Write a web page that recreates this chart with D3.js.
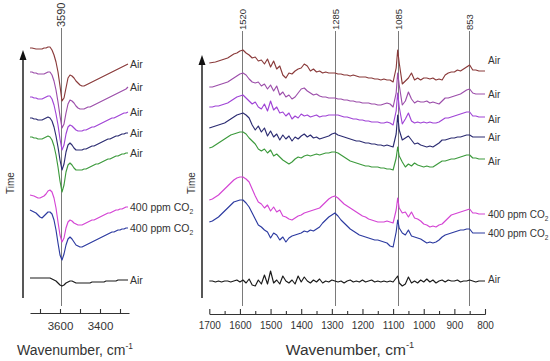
<!DOCTYPE html>
<html>
<head>
<meta charset="utf-8">
<script src="https://cdn.jsdelivr.net/npm/d3@7"></script>
<style>
  body { margin: 0; background: #fff; }
  svg { display: block; font-family: "Liberation Sans", Arial, sans-serif; }
  .lbl { fill: #333; }
</style>
</head>
<body>
<div id="chart"></div>
<script>
var App = App || {};

// wavenumber grids (cm-1)
const wnLeft = d3.range(3750, 3255, -10);
const wnRight = [].concat(d3.range(1700, 1089, -10), [1085], d3.range(1080, 799, -10));

// series, top to bottom
const seriesNames = ["Air", "Air", "Air", "Air", "Air", "400 ppm CO2", "400 ppm CO2", "Air"];
const seriesColors = ["#8a3a3a", "#9c4eaa", "#a044d6", "#2c2c72", "#3c9a3c", "#d444d4", "#2c3aa0", "#1a1a1a"];

// stacking offsets (a.u.)
const offsetsLeft = [252, 228, 203, 182, 163, 105, 90, 22];
const offsetsRight = [237, 213, 193, 172, 152, 100, 78, 19];

// OH region, 3750 -> 3260
const left0 = [0,0,-0.5,-1,-1,-1,-1,0,0,1, 1,-2,-7,-14,-24,-38,-53,-50,-40,-30,
  -27,-28,-30,-33,-35,-37,-38,-38,-37,-36, -35,-34,-33,-32,-31,-30,-29,-28,-27,-26,
  -25,-24,-23,-22,-21,-20,-19,-18,-17,-16];
const left1 = [0,0,-1,-1,-2,-2,-2,-2,-1,0, 0,-3,-9,-18,-30,-44,-56,-52,-41,-32,
  -28,-29,-31,-34,-36,-37,-37,-37,-36,-35, -35,-34,-33,-32,-31,-30,-29,-28,-27,-26,
  -25,-24,-23,-22,-21,-20,-19,-18,-17,-15];
const left2 = [0,0,-1,-1,-2,-2,-2,-1,0,1, 1,-2,-8,-17,-28,-42,-53,-48,-37,-30,
  -28,-29,-31,-33,-34,-34,-34,-33,-33,-32, -31,-30,-30,-29,-28,-27,-26,-25,-24,-23,
  -22,-21,-21,-20,-19,-18,-17,-16,-16,-15];
const left3 = [0,0,-1,-1,-2,-2,-2,-1,0,1, 0,-3,-9,-18,-29,-42,-52,-46,-34,-27,
  -25,-27,-30,-32,-32,-32,-32,-31,-31,-30, -29,-28,-28,-27,-26,-25,-24,-23,-22,-21,
  -21,-20,-19,-18,-18,-17,-16,-16,-15,-15];
const left4 = [0,0,-1,-1,-2,-2,-2,-1,0,1, 0,-3,-9,-18,-30,-44,-55,-48,-35,-28,
  -26,-28,-31,-33,-33,-33,-33,-32,-32,-31, -30,-29,-28,-27,-27,-26,-25,-24,-23,-22,
  -22,-21,-20,-19,-19,-18,-17,-17,-16,-16];
const left5 = [0,-0.5,-1,-2,-3,-3,-2,-1,1,4, 5,3,-3,-13,-27,-40,-47,-43,-33,-27,
  -25,-26,-28,-29,-30,-30,-30,-29,-28,-27, -26,-25,-25,-24,-23,-22,-21,-20,-19,-18,
  -18,-17,-16,-15,-15,-14,-14,-13,-12,-12];
const left6 = [0,-1,-2,-3,-5,-7,-8,-6,-4,-2, -2,-4,-10,-20,-33,-45,-50,-44,-35,-29,
  -27,-29,-32,-35,-36,-37,-37,-36,-35,-34, -33,-32,-31,-30,-29,-28,-27,-26,-25,-24,
  -23,-22,-22,-21,-20,-20,-19,-19,-18,-18];
const left7 = [0,0,0,0,0,0,0,0,0,0, 0,-1,-2,-3,-5,-7,-8,-7,-5,-4,
  -3,-3,-4,-5,-5,-5,-5,-5,-5,-5, -5,-4,-4,-4,-4,-4,-4,-4,-3,-3,
  -3,-3,-3,-3,-2,-2,-2,-2,-2,-2];

// fingerprint region, 1700 -> 800
const right0 = [0,0.5,1,2,3,4,5,7,9,10, 12,13,10,8,5,6,2,3,-1,4,
  -4,2,-6,-3,-12,-15,-10,-11,-8,-6, -5,-1,-3,-8,-6,-9,-8,-10,-9,-10,
  -10,-10,-11,-11,-12,-12,-13,-12,-13,-14, -14,-14,-15,-15,-16,-16,-17,-16,-17,-17,
  -19,-5,13,0,-21,-18,-15,-10,-17,-15,-17, -15,-15,-16,-15,-17,-16,-17,-12,-10,-9,
  -9,-7,-8,-6,-4,-2,-7,-7,-8,-8, -8];
const right1 = [0,0,1,2,3,4,5,7,9,11, 13,14,12,8,5,4,5,1,3,-2,
  2,-4,1,-8,-5,-10,-8,-12,-10,-6, -2,-1,-4,-6,-8,-7,-9,-10,-10,-11,
  -11,-11,-12,-12,-13,-13,-14,-14,-15,-15, -16,-16,-16,-17,-17,-18,-18,-17,-16,-17,
  -20,-6,14,2,-18,-14,-5,-12,-16,-14,-15, -15,-14,-16,-15,-16,-17,-14,-11,-11,-10,
  -9,-8,-7,-5,-3,-2,-6,-7,-7,-7, -7];
const right2 = [0,0,1,1,2,3,4,6,8,10, 11,12,9,6,3,5,0,-2,3,-4,
  6,-3,0,-6,-5,-9,-6,-12,-9,-11, -7,-9,-8,-10,-9,-8,-10,-9,-9,-8,
  -8,-8,-8,-9,-10,-10,-11,-12,-12,-13, -13,-14,-14,-15,-15,-15,-16,-16,-15,-16,
  -18,-4,14,0,-17,-12,-6,-14,-16,-15,-16, -15,-16,-15,-16,-16,-15,-13,-11,-11,-10,
  -9,-8,-7,-6,-5,-5,-9,-9,-10,-10, -10];
const right3 = [0,1,2,3,4,5,7,9,11,13, 14,15,13,10,3,-2,2,-4,0,-8,
  -3,-9,-6,-12,-7,-11,-8,-13,-9,-11, -8,-6,-9,-7,-10,-9,-11,-10,-9,-8,
  -6,-5,-7,-8,-9,-10,-11,-12,-13,-13, -14,-15,-15,-16,-16,-17,-17,-18,-17,-18,
  -19,-6,13,-2,-12,-10,-8,-12,-16,-15,-17, -18,-19,-18,-19,-17,-15,-12,-12,-11,-10,
  -10,-9,-9,-8,-7,-7,-9,-9,-9,-9, -9];
const right4 = [0,1,3,5,7,9,11,13,14,15, 16,16,14,10,7,4,-1,-3,-1,-5,
  -2,-8,-6,-9,-12,-14,-16,-14,-11,-9, -10,-8,-7,-8,-7,-6,-7,-6,-5,-5,
  -4,-4,-5,-7,-9,-11,-13,-14,-15,-16, -17,-18,-18,-19,-19,-19,-20,-20,-21,-21,
  -22,-10,1,-8,-14,-19,-16,-18,-15,-17,-18, -19,-18,-19,-19,-17,-15,-13,-13,-12,-11,
  -11,-10,-9,-8,-7,-7,-10,-10,-11,-11, -11];
const right5 = [0,1,3,5,8,11,14,17,20,22, 23,23,21,18,11,4,-2,-4,-8,-5,
  -11,-7,-12,-10,-16,-17,-19,-20,-18,-16, -15,-13,-12,-11,-10,-9,-8,-5,-2,1,
  3,4,2,-1,-4,-6,-8,-10,-12,-14, -16,-17,-19,-20,-21,-22,-22,-22,-21,-22,
  -23,-10,2,-8,-13,-12,-17,-12,-18,-19,-21, -24,-25,-27,-26,-27,-25,-24,-21,-18,-15,
  -14,-13,-12,-11,-10,-9,-13,-13,-14,-14, -14];
const right6 = [0,1,3,5,8,11,14,17,20,21, 22,22,19,15,9,3,-3,-5,-8,-10,
  -16,-11,-13,-18,-15,-20,-16,-14,-13,-12, -11,-9,-10,-8,-9,-7,-5,-1,2,5,
  7,9,6,2,-1,-4,-7,-9,-11,-13, -14,-15,-16,-17,-18,-18,-19,-20,-21,-24,
  -25,-10,2,-6,-11,-13,-8,-14,-15,-16,-17, -19,-21,-20,-21,-20,-18,-15,-13,-12,-11,
  -10,-9,-8,-8,-7,-7,-11,-11,-11,-11, -11];
const right7 = [0,0,-1,0,-1,0,0,-1,0,1, -1,1,-2,2,-4,-5,1,-3,6,-3,
  10,-2,1,-3,5,0,-2,1,-3,5, -1,4,0,-2,1,-1,2,-2,0,-1,
  1,0,-1,0,-2,0,1,-1,0,-1, 1,-1,0,1,-1,0,-1,0,-1,0,
  -1,3,5,-2,-5,-3,4,-2,0,-2,1, -1,2,-1,1,-2,0,1,-1,1,0,
  0,1,-1,0,0,1,0,-1,0,0, 0];

const leftSeries = [left0, left1, left2, left3, left4, left5, left6, left7];
const rightSeries = [right0, right1, right2, right3, right4, right5, right6, right7];

// reference lines: label and where they sit on the axis
const refLeft = [{ label: "3590", at: 3597 }];
const refRight = [
  { label: "1520", at: 1594 },
  { label: "1285", at: 1289 },
  { label: "1085", at: 1085 },
  { label: "853", at: 852 }
];

const ticksLeft = [3700, 3600, 3500, 3400, 3300];
const tickLabelsLeft = [3600, 3400];
const ticksRightMajor = d3.range(1700, 799, -100);
const ticksRightMinor = d3.range(1650, 800, -100);

(function() {

  App.init = function() {
    const W = 550, H = 361;
    const svg = d3.select("#chart").append("svg")
      .attr("width", W).attr("height", H);

    const y = d3.scaleLinear().domain([0, 270]).range([300, 30]);
    const xL = d3.scaleLinear().domain([3750, 3255]).range([30, 129]);
    const xR = d3.scaleLinear().domain([1700, 800]).range([209.3, 485]);

    // label nudges for right side names (px)
    const nudgeRight = [-11, 0, 2, 0, 2, 0, 0, -2];

    drawPanel({
      x: xL, wn: wnLeft, data: leftSeries, offs: offsetsLeft, refs: refLeft,
      refFont: 11, refTop: 27, labelFont: 10.5, labelDx: 2, nudge: [0, 0, 0, 0, 0, 0, 0, 0],
      arrowX: 23, arrowTop: 50, timeX: 14
    });
    drawPanel({
      x: xR, wn: wnRight, data: rightSeries, offs: offsetsRight, refs: refRight,
      refFont: 9.5, refTop: 30, labelFont: 10, labelDx: 3, nudge: nudgeRight,
      arrowX: 202, arrowTop: 55, timeX: 195
    });

    // axes
    const axL = svg.append("g").attr("transform", "translate(0,313)")
      .call(d3.axisBottom(xL).tickValues(ticksLeft).tickSize(-4).tickSizeOuter(0).tickPadding(9)
        .tickFormat(d => tickLabelsLeft.indexOf(d) >= 0 ? d : ""));
    styleAxis(axL, 11.5);

    const axRm = svg.append("g").attr("transform", "translate(0,314)")
      .call(d3.axisBottom(xR).tickValues(ticksRightMinor).tickSize(-3).tickSizeOuter(0).tickFormat(""));
    styleAxis(axRm, 10);
    const axR = svg.append("g").attr("transform", "translate(0,314)")
      .call(d3.axisBottom(xR).tickValues(ticksRightMajor).tickSize(-5).tickSizeOuter(0).tickPadding(8)
        .tickFormat(d => String(d)));
    styleAxis(axR, 10);

    axisTitle(75, 355, 14);
    axisTitle(350, 355, 15.5);

    function styleAxis(g, fs) {
      g.select(".domain").attr("stroke", "#333").attr("stroke-width", 1.2);
      g.selectAll(".tick line").attr("stroke", "#333").attr("stroke-width", 1.1);
      g.selectAll(".tick text").attr("fill", "#333").style("font-size", fs + "px")
        .style("font-family", "'Liberation Sans', Arial, sans-serif");
    }

    function axisTitle(cx, by, fs) {
      const t = svg.append("text").attr("class", "lbl")
        .attr("x", cx).attr("y", by).attr("text-anchor", "middle")
        .style("font-size", fs + "px");
      t.append("tspan").text("Wavenumber, cm");
      t.append("tspan").attr("dy", -fs * 0.45).style("font-size", (fs * 0.6) + "px").text("-1");
    }

    function drawPanel(p) {
      const g = svg.append("g");

      // reference lines
      p.refs.forEach(function(r) {
        const xx = Math.round(p.x(r.at)) + 0.5;
        g.append("line")
          .attr("x1", xx).attr("x2", xx).attr("y1", p.refTop + 1).attr("y2", 306)
          .attr("stroke", "#7a7a7a").attr("stroke-width", 1);
        g.append("text").attr("class", "lbl")
          .attr("transform", "translate(" + (xx + p.refFont * 0.35) + "," + p.refTop + ") rotate(-90)")
          .style("font-size", p.refFont + "px")
          .text(r.label);
      });

      // time arrow
      g.append("line")
        .attr("x1", p.arrowX).attr("x2", p.arrowX)
        .attr("y1", 298).attr("y2", p.arrowTop + 8)
        .attr("stroke", "#111").attr("stroke-width", 1.4);
      g.append("path")
        .attr("d", "M" + p.arrowX + "," + p.arrowTop + "l-3.5,10h7z")
        .attr("fill", "#111");
      g.append("text").attr("class", "lbl")
        .attr("transform", "translate(" + p.timeX + ",183) rotate(-90)")
        .attr("text-anchor", "middle")
        .style("font-size", "10px")
        .text("Time");

      const line = d3.line()
        .x(d => p.x(d[0]))
        .y(d => y(d[1]));

      p.data.forEach(function(vals, i) {
        const pts = vals.map((v, j) => [p.wn[j], v + p.offs[i]]);
        g.append("path")
          .attr("d", line(pts))
          .attr("fill", "none")
          .attr("stroke", seriesColors[i])
          .attr("stroke-width", 1.15)
          .attr("stroke-linejoin", "round");

        const last = pts[pts.length - 1];
        const t = g.append("text").attr("class", "lbl")
          .attr("x", p.x(last[0]) + p.labelDx)
          .attr("y", y(last[1]) + p.nudge[i])
          .attr("dy", "0.35em")
          .style("font-size", p.labelFont + "px");
        const name = seriesNames[i];
        if (name.slice(-1) === "2") {
          t.append("tspan").text(name.slice(0, -1));
          t.append("tspan").attr("dy", p.labelFont * 0.3).style("font-size", (p.labelFont * 0.65) + "px").text("2");
        } else {
          t.text(name);
        }
      });
    }
  };

})();

App.init();
</script>
</body>
</html>
